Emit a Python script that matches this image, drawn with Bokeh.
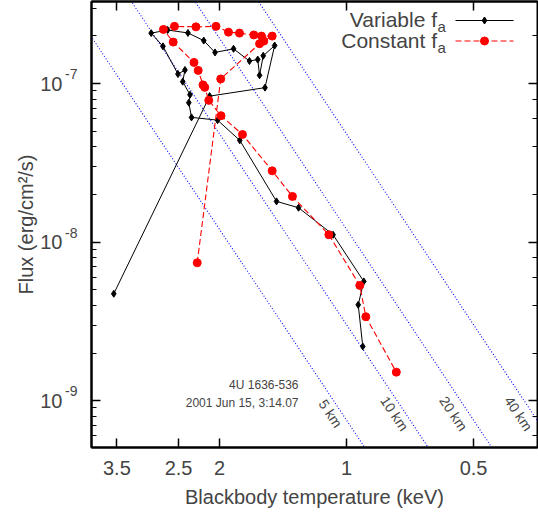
import numpy as np
from bokeh.plotting import figure
from bokeh.models import Range1d, LogAxis, LogTicker, FixedTicker, Label, CustomJSTickFormatter
from bokeh.embed import file_html
from bokeh.resources import INLINE

# ---------------- data ----------------
# Variable colour-correction factor f_a  (temperature keV, flux erg/cm^2/s)
var_T = [3.56, 2.11, 1.56, 1.48, 1.575, 1.607, 1.623, 1.698, 1.852, 2.049,
         2.179, 2.375, 2.653, 2.903, 2.722, 2.508, 2.414, 2.444, 2.349, 2.364,
         2.329, 2.021, 1.790, 1.465, 1.299, 1.076, 0.910, 0.938, 0.915]
var_F = [4.73e-9, 8.35e-8, 9.44e-8, 1.74e-7, 1.50e-7, 1.13e-7, 1.42e-7, 1.39e-7, 1.66e-7, 1.575e-7,
         1.87e-7, 2.09e-7, 2.18e-7, 2.085e-7, 1.72e-7, 1.15e-7, 1.22e-7, 1.03e-7, 8.52e-8, 7.59e-8,
         6.13e-8, 5.89e-8, 4.39e-8, 1.81e-8, 1.65e-8, 1.115e-8, 5.66e-9, 4.03e-9, 2.20e-9]

# Constant f_a
const_T = [2.258, 1.986, 1.607, 1.570, 1.500, 1.590, 1.658, 1.793, 1.904, 2.038,
           2.274, 2.556, 2.715, 2.574, 2.298, 2.246, 2.188, 2.167, 2.120, 1.983,
           1.764, 1.500, 1.343, 1.101, 0.930, 0.900, 0.762]
const_F = [7.42e-9, 1.072e-7, 1.788e-7, 1.857e-7, 1.996e-7, 1.996e-7, 2.03e-7, 2.085e-7, 2.115e-7, 2.30e-7,
           2.283e-7, 2.30e-7, 2.20e-7, 1.83e-7, 1.362e-7, 1.213e-7, 9.83e-8, 9.48e-8, 7.85e-8, 6.28e-8,
           4.78e-8, 2.82e-8, 1.945e-8, 1.115e-8, 5.34e-9, 3.39e-9, 1.515e-9]

# lines of constant blackbody radius: F = NORM * R^2 * T^4
radii_km = [5, 10, 20, 40]
radius_labels = ["5 km", "10 km", "20 km", "40 km"]
NORM = 10 ** -10.52

x_ticks = [3.5, 2.5, 2, 1, 0.5]

source_name = "4U 1636-536"
burst_time = "2001 Jun 15, 3:14.07"

# ---------------- layout ----------------
W, H = 538, 513
FL, FR, FT, FB = 91, 537, 1, 447
X_START, X_END = 4.02, 0.3527
Y_START, Y_END = 5.07e-10, 3.30e-7
FONT = "Liberation Sans"


def px_T(px):
    f = (px - FL) / (FR - FL)
    return 10 ** (np.log10(X_START) + f * (np.log10(X_END) - np.log10(X_START)))


def py_F(py):
    f = (FB - py) / (FB - FT)
    return 10 ** (np.log10(Y_START) + f * (np.log10(Y_END) - np.log10(Y_START)))


p = figure(width=W, height=H, x_axis_type="log", y_axis_type="log",
           x_range=Range1d(X_START, X_END), y_range=Range1d(Y_START, Y_END),
           output_backend="svg", toolbar_location=None,
           min_border_left=FL, min_border_right=W - FR,
           min_border_top=FT, min_border_bottom=H - FB)
p.xgrid.visible = False
p.ygrid.visible = False
p.outline_line_color = "black"
p.outline_line_width = 2
p.background_fill_color = "white"
p.border_fill_color = "white"

blank = CustomJSTickFormatter(code="return '';")

# bottom axis
xa = p.xaxis[0]
xa.ticker = FixedTicker(ticks=x_ticks, minor_ticks=[])
xa.formatter = CustomJSTickFormatter(code="return tick.toString();")
xa.major_tick_in = 9
xa.major_tick_out = 0
xa.axis_line_width = 2
xa.major_tick_line_width = 1.5
xa.major_label_text_font = FONT
xa.major_label_text_font_size = "20px"
xa.major_label_standoff = 13
xa.axis_label = "Blackbody temperature (keV)"
xa.axis_label_text_font = FONT
xa.axis_label_text_font_size = "20px"
xa.axis_label_text_font_style = "normal"
xa.axis_label_standoff = 8

# left axis (inner): ticks + raised exponent part of the tick labels
ya = p.yaxis[0]
ya.formatter = CustomJSTickFormatter(
    code="return String(Math.round(Math.log10(tick))) + '\\n ';")
ya.major_label_text_font = FONT
ya.major_label_text_font_size = "14px"
ya.major_label_standoff = 14
ya.major_tick_in = 9
ya.major_tick_out = 0
ya.minor_tick_in = 5
ya.minor_tick_out = 0
ya.axis_line_width = 2
ya.major_tick_line_width = 1.5

# left axis (outer): the "10" base of the tick labels and the axis title
yb = LogAxis(ticker=LogTicker(), formatter=CustomJSTickFormatter(code="return '10';"),
             major_label_text_font=FONT, major_label_text_font_size="20px",
             major_label_standoff=0, major_tick_in=0, major_tick_out=0,
             minor_tick_in=0, minor_tick_out=0, axis_line_color=None,
             major_tick_line_color=None, minor_tick_line_color=None,
             axis_label="Flux (erg/cm²/s)", axis_label_text_font=FONT,
             axis_label_text_font_size="20px", axis_label_text_font_style="normal",
             axis_label_standoff=0)
p.add_layout(yb, "left")

# mirrored axes
top = LogAxis(ticker=FixedTicker(ticks=x_ticks, minor_ticks=[]), formatter=blank,
              major_tick_in=9, major_tick_out=0, major_label_standoff=0,
              axis_line_width=2, major_tick_line_width=1.5)
p.add_layout(top, "above")
right = LogAxis(formatter=blank, major_tick_in=9, major_tick_out=0,
                minor_tick_in=5, minor_tick_out=0, major_label_standoff=0,
                axis_line_width=1, major_tick_line_width=1.5)
p.add_layout(right, "right")

# constant radius lines
T_line = np.logspace(np.log10(X_END * 0.9), np.log10(X_START * 1.1), 200)
for R in radii_km:
    p.line(T_line, NORM * R ** 2 * T_line ** 4, line_color="#0000ff",
           line_dash="1 2", line_width=1.1)

# data series
p.line(var_T, var_F, line_color="black", line_width=1)
p.scatter(var_T, var_F, marker="diamond", size=7, color="black")
p.line(const_T, const_F, line_color="#ff0000", line_width=1.1, line_dash="6 3")
p.scatter(const_T, const_F, marker="circle", size=8, color="#ff0000")

# radius labels
label_px = [330, 394, 453, 518]
for lab, lx in zip(radius_labels, label_px):
    p.add_layout(Label(x=px_T(lx), y=py_F(413), text=lab, angle=-0.98,
                       text_align="center", text_baseline="middle",
                       text_font=FONT, text_font_size="14px"))

# source annotation
p.add_layout(Label(x=px_T(298), y=py_F(384), text=source_name, text_align="right",
                   text_baseline="middle", text_font=FONT, text_font_size="12px"))
p.add_layout(Label(x=px_T(298), y=py_F(402), text=burst_time, text_align="right",
                   text_baseline="middle", text_font=FONT, text_font_size="12px"))

# legend (label left, sample right)
legend_rows = [("Variable f", 20, "black", "diamond", 7, None),
               ("Constant f", 40.5, "#ff0000", "circle", 8, "6 3")]
for text, ly, col, mk, sz, dash in legend_rows:
    p.add_layout(Label(x=px_T(436.5), y=py_F(ly - 1), text=text, text_align="right",
                       text_baseline="middle", text_font=FONT, text_font_size="21px"))
    p.add_layout(Label(x=px_T(437), y=py_F(ly + 6), text="a", text_align="left",
                       text_baseline="middle", text_font=FONT, text_font_size="15px"))
    kw = dict(line_color=col, line_width=1.1)
    if dash:
        kw["line_dash"] = dash
    p.line([px_T(455), px_T(513)], [py_F(ly), py_F(ly)], **kw)
    p.scatter([px_T(484)], [py_F(ly)], marker=mk, size=sz, color=col)

open("out.html", "w").write(file_html(p, INLINE))
